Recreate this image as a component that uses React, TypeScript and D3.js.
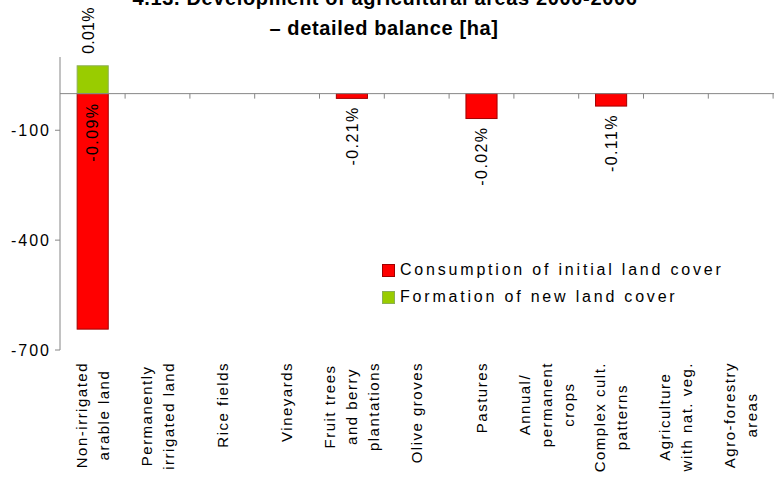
import React from "react";
import * as d3 from "d3";

const titleLines = [
  "4.13. Development of agricultural areas 2000-2006",
  "\u2013 detailed balance [ha]",
];

const categories: string[][] = [
  ["Non-irrigated", "arable land"],
  ["Permanently", "irrigated land"],
  ["Rice fields"],
  ["Vineyards"],
  ["Fruit trees", "and berry", "plantations"],
  ["Olive groves"],
  ["Pastures"],
  ["Annual/", "permanent", "crops"],
  ["Complex cult.", "patterns"],
  ["Agriculture", "with nat. veg."],
  ["Agro-forestry", "areas"],
];

const seriesNames = ["Consumption of initial land cover", "Formation of new land cover"];
const consumption = [-643, 0, 0, 0, -13, 0, -68, 0, -34, 0, 0];
const formation = [76, 0, 0, 0, 0, 0, 0, 0, 0, 0, 0];
const consumptionLabels = ["-0.09%", "", "", "", "-0.21%", "", "-0.02%", "", "-0.11%", "", ""];
const formationLabels = ["0.01%", "", "", "", "", "", "", "", "", "", ""];
const yTicks = [-700, -400, -100];
const yDomain = [-700, 100];

const W = 774;
const H = 478;
const FONT = "'Liberation Sans', Arial, sans-serif";
const RED = "#FF0000";
const RED_STROKE = "#A00000";
const GREEN = "#99CC00";
const GREEN_STROKE = "#8CAF55";
const AXIS = "#868686";

const CAT_FS = 15;
const CAT_LS = 1.5;

function measure(text: string, size: number, ls: number): number {
  if (typeof document === "undefined") return text.length * size * 0.5;
  const c = document.createElement("canvas").getContext("2d");
  if (!c) return text.length * size * 0.5;
  c.font = `${size}px 'Liberation Sans'`;
  return c.measureText(text).width + ls * text.length;
}

export default function App() {
  const x = d3
    .scaleBand<number>()
    .domain(categories.map((_, i) => i))
    .range([60.3, 773.1])
    .padding(0);
  const y = d3.scaleLinear().domain(yDomain).range([350, 57]);
  const bw = x.bandwidth();
  const barW = bw * 0.48;
  const y0 = y(0);

  return (
    <svg
      width={W}
      height={H}
      style={{ position: "absolute", left: 0, top: 0, background: "#fff" }}
      fontFamily={FONT}
    >
      <rect x={0} y={0} width={W} height={H} fill="#fff" />
      {/* title */}
      <g fontWeight="bold" fontSize={20} textAnchor="middle" fill="#000">
        <text x={385} y={5} letterSpacing={0.64}>
          {titleLines[0]}
        </text>
        <text x={384} y={35} letterSpacing={0.64}>
          {titleLines[1]}
        </text>
      </g>

      {/* bars: consumption */}
      {consumption.map((v, i) =>
        v === 0 ? null : (
          <rect
            key={"c" + i}
            x={(x(i) as number) + (bw - barW) / 2}
            y={y(0)}
            width={barW}
            height={y(v) - y(0)}
            fill={RED}
            stroke={RED_STROKE}
            strokeWidth={1}
          />
        )
      )}
      {formation.map((v, i) =>
        v === 0 ? null : (
          <rect
            key={"f" + i}
            x={(x(i) as number) + (bw - barW) / 2}
            y={y(v)}
            width={barW}
            height={y(0) - y(v)}
            fill={GREEN}
            stroke={GREEN_STROKE}
            strokeWidth={1}
          />
        )
      )}

      {/* axes */}
      <line x1={60} x2={774} y1={y0} y2={y0} stroke={AXIS} strokeWidth={1} />
      {categories.map((_, i) => {
        const tx = (x(i) as number) + bw;
        return <line key={"xt" + i} x1={tx} x2={tx} y1={y0} y2={y0 + 5} stroke={AXIS} />;
      })}
      <line x1={60} x2={60} y1={y(yDomain[1])} y2={y(yDomain[0])} stroke={AXIS} strokeWidth={1} />
      {yTicks.map((t) => (
        <g key={"yt" + t}>
          <line x1={55} x2={60} y1={y(t)} y2={y(t)} stroke={AXIS} />
          <text
            x={51}
            y={y(t)}
            dy="0.35em"
            textAnchor="end"
            fontSize={16}
            letterSpacing={2}
            fill="#000"
          >
            {String(t)}
          </text>
        </g>
      ))}

      {/* data labels */}
      {consumption.map((v, i) => {
        const lbl = consumptionLabels[i];
        if (!lbl) return null;
        const cx = (x(i) as number) + bw / 2;
        const inside = -v > 100;
        const py = inside ? y0 + 9 : y(v) + 8;
        return (
          <text
            key={"cl" + i}
            transform={`translate(${cx},${py}) rotate(-90)`}
            dy="0.35em"
            textAnchor="end"
            fontSize={16}
            letterSpacing={1.4}
            fill="#000"
          >
            {lbl}
          </text>
        );
      })}
      {formation.map((v, i) => {
        const lbl = formationLabels[i];
        if (!lbl) return null;
        const cx = (x(i) as number) + bw / 2 - 4;
        const py = y(v) - 12;
        return (
          <text
            key={"fl" + i}
            transform={`translate(${cx},${py}) rotate(-90)`}
            dy="0.35em"
            textAnchor="start"
            fontSize={16}
            letterSpacing={0.2}
            fill="#000"
          >
            {lbl}
          </text>
        );
      })}

      {/* category labels */}
      {categories.map((lines, i) => {
        const cx = (x(i) as number) + bw / 2;
        const maxLen = Math.max(...lines.map((l) => measure(l, CAT_FS, CAT_LS)));
        const cy = 362 + maxLen / 2;
        const lh = 22;
        return (
          <g key={"cat" + i} transform={`translate(${cx},${cy}) rotate(-90)`}>
            {lines.map((l, j) => (
              <text
                key={j}
                x={0}
                y={(j - (lines.length - 1) / 2) * lh}
                dy="0.35em"
                textAnchor="middle"
                fontSize={CAT_FS}
                letterSpacing={CAT_LS}
                fill="#000"
              >
                {l}
              </text>
            ))}
          </g>
        );
      })}

      {/* legend */}
      {seriesNames.map((name, i) => (
        <g key={"lg" + i} transform={`translate(382,${264 + i * 27})`}>
          <rect
            x={0.5}
            y={0.5}
            width={12}
            height={12}
            fill={i === 0 ? RED : GREEN}
            stroke={i === 0 ? RED_STROKE : GREEN_STROKE}
          />
          <text x={18} y={11} fontSize={16} letterSpacing={2.8} fill="#000">
            {name}
          </text>
        </g>
      ))}
    </svg>
  );
}
